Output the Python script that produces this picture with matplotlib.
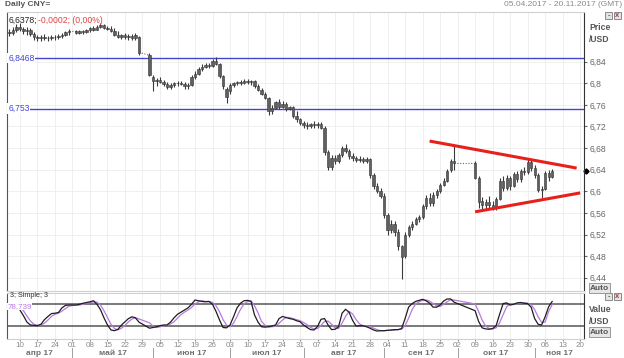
import numpy as np
import pandas as pd
import matplotlib
matplotlib.use("Agg")
import matplotlib.pyplot as plt
import matplotlib.transforms as mtransforms
from matplotlib.patches import Rectangle

plt.rcParams["font.family"] = ["Liberation Sans", "DejaVu Sans"]

# trading days on the axis (holidays left as None in the data)
days = pd.bdate_range("2017-04-05", "2017-11-20")

opens = [
    6.895, 6.893, 6.898, 6.905, 6.900, 6.896, 6.899, 6.892, 6.885, 6.884,
    6.886, 6.883, 6.884, 6.886, 6.885, 6.888, 6.890, 6.895, None, 6.897,
    6.894, 6.896, 6.895, 6.898, 6.902, 6.899, 6.905, 6.908, 6.903, 6.901,
    6.897, 6.890, 6.886, 6.889, 6.885, 6.888, 6.883, 6.885, None, None,
    6.852, 6.812, 6.805, 6.807, 6.803, 6.799, 6.794, 6.797, 6.800, 6.801,
    6.799, 6.795, 6.797, 6.812, 6.818, 6.827, 6.831, 6.834, 6.832, 6.841,
    6.836, 6.814, 6.790, 6.785, 6.796, 6.800, 6.802, 6.800, 6.805, 6.802,
    6.804, 6.795, 6.788, 6.781, 6.773, 6.748, 6.755, 6.765, 6.757, 6.762,
    6.752, 6.756, 6.740, 6.733, 6.726, 6.722, 6.720, 6.724, 6.722, 6.725,
    6.718, 6.672, 6.645, 6.662, 6.656, 6.667, 6.680, 6.674, 6.665, 6.662,
    6.658, 6.660, 6.656, 6.660, 6.630, 6.610, 6.600, 6.592, 6.556, 6.528,
    6.540, 6.525, 6.498, 6.480, 6.520, 6.533, 6.540, 6.549, 6.552, 6.572,
    6.588, 6.578, 6.594, 6.600, 6.612, 6.620, 6.640, 6.656, None, None,
    None, None, None, 6.653, 6.625, 6.582, 6.575, 6.580, 6.575, 6.570,
    6.586, 6.620, 6.606, 6.625, 6.610, 6.632, 6.622, 6.638, 6.635, 6.655,
    6.643, 6.630, 6.603, 6.605, 6.634, 6.626,
]
highs = [
    6.900, 6.904, 6.910, 6.912, 6.904, 6.905, 6.903, 6.895, 6.890, 6.889,
    6.891, 6.888, 6.889, 6.890, 6.891, 6.893, 6.897, 6.900, None, 6.899,
    6.898, 6.899, 6.900, 6.904, 6.906, 6.908, 6.912, 6.910, 6.907, 6.906,
    6.902, 6.896, 6.892, 6.893, 6.891, 6.892, 6.893, 6.887, None, None,
    6.856, 6.815, 6.810, 6.812, 6.806, 6.802, 6.800, 6.803, 6.804, 6.804,
    6.802, 6.800, 6.815, 6.822, 6.830, 6.835, 6.837, 6.838, 6.845, 6.848,
    6.838, 6.816, 6.793, 6.800, 6.803, 6.805, 6.806, 6.808, 6.808, 6.807,
    6.806, 6.798, 6.791, 6.784, 6.775, 6.760, 6.768, 6.770, 6.768, 6.765,
    6.758, 6.758, 6.748, 6.736, 6.730, 6.728, 6.727, 6.730, 6.729, 6.728,
    6.720, 6.676, 6.668, 6.668, 6.670, 6.684, 6.687, 6.678, 6.670, 6.665,
    6.665, 6.664, 6.663, 6.662, 6.633, 6.615, 6.606, 6.596, 6.560, 6.546,
    6.545, 6.530, 6.500, 6.524, 6.538, 6.545, 6.552, 6.556, 6.576, 6.594,
    6.596, 6.598, 6.605, 6.616, 6.625, 6.642, 6.660, 6.684, None, None,
    None, None, None, 6.656, 6.628, 6.590, 6.585, 6.592, 6.582, 6.590,
    6.625, 6.628, 6.630, 6.628, 6.636, 6.638, 6.642, 6.645, 6.661, 6.658,
    6.648, 6.633, 6.610, 6.638, 6.640, 6.642,
]
lows = [
    6.888, 6.890, 6.895, 6.896, 6.892, 6.890, 6.888, 6.880, 6.878, 6.879,
    6.880, 6.878, 6.880, 6.881, 6.882, 6.884, 6.887, 6.890, None, 6.891,
    6.891, 6.892, 6.893, 6.895, 6.897, 6.898, 6.902, 6.900, 6.898, 6.895,
    6.888, 6.884, 6.882, 6.882, 6.881, 6.880, 6.880, 6.852, None, None,
    6.813, 6.785, 6.795, 6.800, 6.795, 6.790, 6.789, 6.793, 6.795, 6.796,
    6.790, 6.789, 6.795, 6.808, 6.815, 6.822, 6.828, 6.829, 6.830, 6.833,
    6.810, 6.790, 6.763, 6.780, 6.793, 6.796, 6.797, 6.798, 6.798, 6.797,
    6.792, 6.785, 6.778, 6.770, 6.742, 6.744, 6.752, 6.752, 6.754, 6.748,
    6.750, 6.735, 6.728, 6.722, 6.718, 6.716, 6.717, 6.718, 6.717, 6.715,
    6.668, 6.640, 6.640, 6.650, 6.652, 6.664, 6.670, 6.660, 6.656, 6.654,
    6.655, 6.652, 6.653, 6.625, 6.605, 6.596, 6.588, 6.550, 6.520, 6.522,
    6.518, 6.492, 6.437, 6.476, 6.516, 6.528, 6.538, 6.544, 6.548, 6.568,
    6.572, 6.573, 6.588, 6.596, 6.610, 6.618, 6.636, 6.640, None, None,
    None, None, None, 6.622, 6.570, 6.568, 6.567, 6.570, 6.566, 6.566,
    6.583, 6.600, 6.603, 6.602, 6.608, 6.618, 6.618, 6.630, 6.632, 6.638,
    6.625, 6.598, 6.587, 6.602, 6.620, 6.624,
]
closes = [
    6.893, 6.898, 6.905, 6.900, 6.896, 6.899, 6.892, 6.885, 6.884, 6.886,
    6.883, 6.884, 6.886, 6.885, 6.888, 6.890, 6.895, 6.897, None, 6.894,
    6.896, 6.895, 6.898, 6.902, 6.899, 6.905, 6.908, 6.903, 6.901, 6.897,
    6.890, 6.886, 6.889, 6.885, 6.888, 6.883, 6.890, 6.857, None, None,
    6.816, 6.805, 6.807, 6.803, 6.799, 6.794, 6.797, 6.800, 6.801, 6.799,
    6.795, 6.797, 6.812, 6.818, 6.827, 6.831, 6.834, 6.832, 6.841, 6.836,
    6.814, 6.795, 6.775, 6.796, 6.800, 6.802, 6.800, 6.805, 6.802, 6.804,
    6.795, 6.788, 6.781, 6.773, 6.748, 6.755, 6.765, 6.757, 6.762, 6.752,
    6.756, 6.740, 6.733, 6.726, 6.722, 6.720, 6.724, 6.722, 6.725, 6.718,
    6.672, 6.645, 6.662, 6.656, 6.667, 6.680, 6.674, 6.665, 6.662, 6.658,
    6.660, 6.656, 6.660, 6.630, 6.610, 6.600, 6.592, 6.556, 6.528, 6.540,
    6.525, 6.498, 6.478, 6.520, 6.533, 6.540, 6.549, 6.552, 6.572, 6.588,
    6.578, 6.594, 6.600, 6.612, 6.620, 6.638, 6.656, 6.653, None, None,
    None, None, None, 6.625, 6.580, 6.575, 6.580, 6.575, 6.570, 6.586,
    6.620, 6.606, 6.625, 6.610, 6.632, 6.622, 6.638, 6.635, 6.655, 6.643,
    6.630, 6.603, 6.605, 6.634, 6.626, 6.638,
]

# stochastic 3; Simple; 3  (%K black, %D violet)
stoch_k = [
    None, None, None, 64, 48, 30, 22, 21, 20, 24,
    37, 46, 54, 55, 57, 70, 77, 78, None, 78,
    80, 83, 85, 87, 90, 80, 65, 42, 22, 8,
    6, 10, 22, 31, 40, 45, 42, 30, None, None,
    13, 15, 17, 20, 22, 22, 30, 42, 52, 58,
    64, 70, 80, 92, 90, 88, 87, 88, 80, 60,
    36, 15, 14, 22, 45, 70, 83, 90, 91, 88,
    50, 30, 17, 16, 17, 19, 22, 40, 46, 43,
    40, 38, 34, 31, 22, 15, 9, 8, 18, 38,
    40, 22, 9, 10, 17, 55, 66, 58, 35, 19,
    20, 20, 17, 13, 8, 5, 6, 6, 7, 8,
    9, 9, 12, 40, 72, 82, 88, 91, 94, 90,
    83, 72, 72, 78, 89, 95, 95, 86, None, None,
    None, None, None, 62, 32, 14, 11, 10, 12, 20,
    52, 82, 84, 78, 80, 84, 85, 83, 82, 72,
    40, 24, 22, 45, 73, 88,
]
stoch_d = [
    None, None, None, 72, 62, 47, 33, 24, 21, 22,
    27, 36, 46, 52, 55, 61, 68, 75, None, 78,
    78, 80, 83, 85, 87, 86, 78, 62, 43, 24,
    12, 8, 13, 21, 31, 39, 42, 39, None, None,
    28, 19, 15, 17, 20, 21, 25, 31, 41, 51,
    58, 64, 71, 81, 87, 90, 88, 88, 85, 76,
    59, 37, 22, 17, 27, 46, 66, 81, 88, 90,
    76, 56, 32, 21, 17, 17, 19, 27, 36, 43,
    43, 40, 37, 34, 29, 23, 15, 11, 12, 21,
    32, 33, 24, 14, 12, 27, 46, 60, 53, 37,
    25, 20, 19, 17, 13, 9, 6, 6, 7, 7,
    8, 9, 10, 20, 41, 65, 81, 87, 91, 92,
    89, 82, 76, 74, 80, 87, 93, 92, None, None,
    None, None, None, 81, 60, 36, 19, 12, 11, 14,
    28, 51, 73, 81, 81, 81, 83, 84, 83, 79,
    65, 45, 29, 30, 60, 78.739,
]

levels = [6.8468, 6.753]
level_labels = ["6,8468", "6,753"]
upper_dates = ["2017-09-20", "2017-11-17"]
upper_vals = [6.693, 6.643]
lower_dates = ["2017-10-09", "2017-11-20"]
lower_vals = [6.562, 6.597]
month_names = ["апр 17", "май 17", "июн 17", "июл 17", "авг 17", "сен 17", "окт 17", "ноя 17"]
price_ticks = [6.44, 6.48, 6.52, 6.56, 6.60, 6.64, 6.68, 6.72, 6.76, 6.80, 6.84]

W, H = 624, 358
fig = plt.figure(figsize=(W / 100, H / 100), dpi=100)
fig.patch.set_facecolor("white")


def fx(px):
    return px / W


def fy(py):
    return 1 - py / H


ax = fig.add_axes([fx(7), fy(291), 577 / W, 279 / H])
ax2 = fig.add_axes([fx(7), fy(339), 577 / W, 46 / H])

o = np.array(opens, dtype=float)
h = np.array(highs, dtype=float)
l = np.array(lows, dtype=float)
c = np.array(closes, dtype=float)
n = len(c)
xi = np.arange(n)
ok = ~np.isnan(c)

# candles
ax.vlines(xi[ok], l[ok], h[ok], color="#3a3a3a", lw=0.8, zorder=3)
body_bot = np.minimum(o, c)
body_h = np.maximum(np.abs(c - o), 0.0012)
ax.bar(xi[ok], body_h[ok], bottom=body_bot[ok], width=0.62,
       color="#606060", edgecolor="#333333", linewidth=0.4, zorder=4)

# dotted connector over holidays
prev = None
for i in range(n):
    if np.isnan(c[i]):
        continue
    if prev is not None and i - prev > 1:
        ax.plot([prev, i], [c[prev], o[i]], ls=(0, (1, 1.5)), color="#666666", lw=0.8, zorder=3)
    prev = i

# horizontal levels
for lv, lab in zip(levels, level_labels):
    ax.axhline(lv, color="#4646d2", lw=1.0, zorder=2)
    ax.text(0.002, lv, lab, transform=mtransforms.blended_transform_factory(ax.transAxes, ax.transData),
            fontsize=6.2, color="#4646d2", va="center", ha="left",
            bbox=dict(boxstyle="square,pad=0.1", fc="white", ec="none"), zorder=5)

# triangle
pos = {d: i for i, d in enumerate(days)}
ax.plot([pos[pd.Timestamp(d)] for d in upper_dates], upper_vals, color="#e8201c", lw=2.2, zorder=6,
        solid_capstyle="butt")
ax.plot([pos[pd.Timestamp(d)] for d in lower_dates], lower_vals, color="#e8201c", lw=2.2, zorder=6,
        solid_capstyle="butt")

mondays = [i for i, d in enumerate(days) if d.weekday() == 0]
monday_labels = [f"{days[i].day:02d}" for i in mondays]

xlim = (-0.7, 164.1)
ax.set_xlim(xlim)
ax.set_ylim(6.4154, 6.932)
ax.set_xticks(mondays)
ax.tick_params(axis="x", length=0, labelbottom=False)
ax.yaxis.tick_right()
ax.set_yticks(price_ticks)
ax.set_yticklabels([f"{v:g}".replace(".", ",") for v in price_ticks])
ax.tick_params(axis="y", length=2.5, pad=1.2, labelsize=6.2, colors="#666666", direction="out")
ax.grid(True, color="#ececec", lw=0.6)
ax.set_axisbelow(True)
for side, col in [("left", "#555555"), ("right", "#333333"), ("top", "#d0d0d0"), ("bottom", "#d0d0d0")]:
    ax.spines[side].set_color(col)
    ax.spines[side].set_linewidth(0.8)

# last price marker
ax.plot([1.004], [c[ok][-1]], marker="D", ms=2.6, color="black",
        transform=mtransforms.blended_transform_factory(ax.transAxes, ax.transData), clip_on=False)

# header texts inside main panel
ax.text(0.002, 0.985, "6,6378;", transform=ax.transAxes, fontsize=6.2, color="#222222", va="top", ha="left")
ax.text(0.054, 0.985, "-0,0002; (0,00%)", transform=ax.transAxes, fontsize=6.2, color="#e04040",
        va="top", ha="left")

# stochastic panel
k = np.array(stoch_k, dtype=float)
d = np.array(stoch_d, dtype=float)
md = ~np.isnan(d)
mk = ~np.isnan(k)
ax2.plot(xi[md], d[md], color="#b57be0", lw=0.9, zorder=3)
ax2.plot(xi[mk], k[mk], color="#1e1e1e", lw=0.9, zorder=4)
ax2.axhline(80, color="#555555", lw=1.1, zorder=2)
ax2.axhline(20, color="#555555", lw=1.1, zorder=2)
ax2.set_xlim(xlim)
ax2.set_ylim(-17.3, 111.7)
ax2.set_yticks([])
ax2.set_xticks(mondays)
ax2.set_xticklabels(monday_labels)
ax2.tick_params(axis="x", length=1.5, pad=1.0, labelsize=5.8, colors="#8a8a8a")
ax2.grid(True, axis="x", color="#ececec", lw=0.6)
ax2.set_axisbelow(True)
for side, col in [("left", "#555555"), ("right", "#333333"), ("top", "#d0d0d0"), ("bottom", "#d0d0d0")]:
    ax2.spines[side].set_color(col)
    ax2.spines[side].set_linewidth(0.8)
ax2.text(0.006, 1.03, "3; Simple; 3", transform=ax2.transAxes, fontsize=5.2, color="#333333",
         va="top", ha="left", zorder=6)
ax2.text(0.001, 74, "78,739", transform=mtransforms.blended_transform_factory(ax2.transAxes, ax2.transData),
         fontsize=5.8, color="#b57be0", va="center", ha="left",
         bbox=dict(boxstyle="square,pad=0.02", fc="white", ec="none"), zorder=5)

# month labels and separators
xt = mtransforms.blended_transform_factory(ax2.transData, ax2.transAxes)
month_starts = [i for i in range(len(days)) if i == 0 or days[i].month != days[i - 1].month]
bounds = [xlim[0]] + month_starts[1:] + [xlim[1]]
for j, name in enumerate(month_names):
    ax2.text((bounds[j] + bounds[j + 1]) / 2, -0.31, name, transform=xt, fontsize=6.0,
             fontweight="bold", color="#707070", ha="center", va="center", clip_on=False)
for s in month_starts[1:]:
    ax2.plot([s, s], [-0.19, -0.42], transform=xt, color="#a0a0a0", lw=0.7, clip_on=False)

# window texts
fig.text(fx(5), fy(5), "Daily CNY=", fontsize=6.0, fontweight="bold", color="#555555", va="center", ha="left")
fig.text(fx(622), fy(5), "05.04.2017 - 20.11.2017 (GMT)", fontsize=6.0, color="#8a8a8a", va="center", ha="right")
fig.text(fx(589), fy(28), "Price", fontsize=6.2, fontweight="bold", color="#555555", va="center", ha="left")
fig.text(fx(589), fy(39), "/USD", fontsize=6.2, fontweight="bold", color="#555555", va="center", ha="left")
fig.text(fx(589), fy(310), "Value", fontsize=6.2, fontweight="bold", color="#555555", va="center", ha="left")
fig.text(fx(589), fy(321), "/USD", fontsize=6.2, fontweight="bold", color="#555555", va="center", ha="left")
for yy in (288, 332):
    fig.text(fx(590), fy(yy), "Auto", fontsize=6.0, fontweight="bold", color="#555555", va="center", ha="left",
             bbox=dict(boxstyle="square,pad=0.15", fc="#e6e6e6", ec="#8a8a8a", lw=0.6))

# small window buttons
for yy in (12, 293):
    for xx, sym in ((605, "-"), (614, "x")):
        fig.add_artist(Rectangle((fx(xx), fy(yy + 7)), 7 / W, 7 / H, transform=fig.transFigure,
                                 fc="#e4e4e4", ec="#7a7a7a", lw=0.6))
        fig.text(fx(xx + 3.5), fy(yy + 3.8), sym, fontsize=5.5, fontweight="bold",
                 color="#a04040" if sym == "x" else "#555555", ha="center", va="center")

fig.savefig("out.png", dpi=100)
